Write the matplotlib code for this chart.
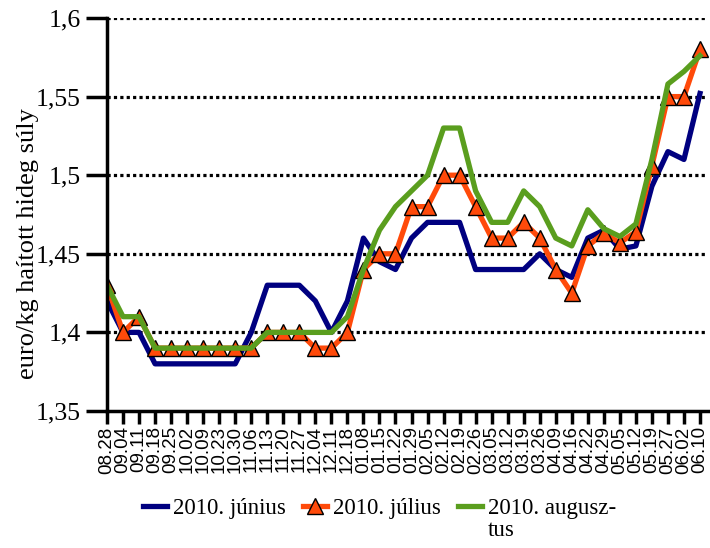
import matplotlib
matplotlib.use('Agg')
import matplotlib.pyplot as plt
import numpy as np

#%%

# weekly dates (x axis)
dates = ['08.28', '09.04', '09.11', '09.18', '09.25', '10.02', '10.09', '10.23',
         '10.30', '11.06', '11.13', '11.20', '11.27', '12.04', '12.11', '12.18',
         '01.08', '01.15', '01.22', '01.29', '02.05', '02.12', '02.19', '02.26',
         '03.05', '03.12', '03.19', '03.26', '04.09', '04.16', '04.22', '04.29',
         '05.05', '05.12', '05.19', '05.27', '06.02', '06.10']

# 2010. június
junius = [1.42, 1.40, 1.40, 1.38, 1.38, 1.38, 1.38, 1.38,
          1.38, 1.40, 1.43, 1.43, 1.43, 1.42, 1.40, 1.42,
          1.46, 1.445, 1.44, 1.46, 1.47, 1.47, 1.47, 1.44,
          1.44, 1.44, 1.44, 1.45, 1.44, 1.435, 1.46, 1.465,
          1.453, 1.455, 1.493, 1.515, 1.51, 1.552]

# 2010. július
julius = [1.43, 1.40, 1.41, 1.39, 1.39, 1.39, 1.39, 1.39,
          1.39, 1.39, 1.40, 1.40, 1.40, 1.39, 1.39, 1.40,
          1.44, 1.45, 1.45, 1.48, 1.48, 1.50, 1.50, 1.48,
          1.46, 1.46, 1.47, 1.46, 1.44, 1.425, 1.455, 1.463,
          1.457, 1.464, 1.506, 1.55, 1.55, 1.58]

# 2010. augusztus
augusztus = [1.43, 1.41, 1.41, 1.39, 1.39, 1.39, 1.39, 1.39,
             1.39, 1.39, 1.40, 1.40, 1.40, 1.40, 1.40, 1.41,
             1.44, 1.465, 1.48, 1.49, 1.50, 1.53, 1.53, 1.49,
             1.47, 1.47, 1.49, 1.48, 1.46, 1.455, 1.478, 1.466,
             1.461, 1.469, 1.51, 1.558, 1.566, 1.576]

y_ticks = [1.35, 1.4, 1.45, 1.5, 1.55, 1.6]
y_ticklabels = ['1,35', '1,4', '1,45', '1,5', '1,55', '1,6']

#%%

serif = 'Liberation Serif'
sans = 'Liberation Sans'

fig = plt.figure(figsize=(7.1, 5.48), dpi=100)
ax = fig.add_axes([107/710, 1 - 411/548, 601/710, 393/548])

x = np.arange(len(dates))

# dotted grid
for yv in y_ticks[1:]:
    ax.axhline(yv, color='black', lw=2.3, linestyle=(0, (1, 1)), zorder=1)

ax.plot(x, junius, color='#000080', lw=3.8, label='2010. június', zorder=3)
ax.plot(x, julius, color='#FF4A0A', lw=3.8, marker='^', markersize=11,
        markerfacecolor='#FF4A0A', markeredgecolor='black', markeredgewidth=1,
        label='2010. július', zorder=4)
ax.plot(x, augusztus, color='#5A9E1E', lw=3.8, label='2010. augusz-', zorder=5)

ax.set_xlim(0, 37.5)
ax.set_ylim(1.35, 1.6)

ax.set_yticks(y_ticks)
ax.set_yticklabels(y_ticklabels, fontfamily=serif, fontsize=18.5)
ax.set_xticks(x)
ax.set_xticklabels(dates, rotation=90, fontfamily=sans, fontsize=13.5)

ax.tick_params(axis='y', direction='out', length=15, width=2.5, color='black', pad=4)
ax.tick_params(axis='x', direction='out', length=9, width=2.5, color='black', pad=2)

for s in ['top', 'right']:
    ax.spines[s].set_visible(False)
for s in ['left', 'bottom']:
    ax.spines[s].set_linewidth(2.5)
    ax.spines[s].set_zorder(6)

ax.set_ylabel('euro/kg haított hideg súly', fontfamily=serif, fontsize=19)
ax.yaxis.set_label_coords(-0.113, 0.427)

leg = ax.legend(loc='upper left', bbox_to_anchor=(143/710, 1 - 498/548),
                bbox_transform=fig.transFigure, ncol=3, frameon=False,
                prop={'family': serif, 'size': 16.5}, handlelength=1.05,
                handletextpad=0.25, columnspacing=0.75, borderaxespad=0,
                borderpad=0)

# second line of the wrapped legend label, under "2010. augusz-"
fig.canvas.draw()
bb = leg.get_texts()[2].get_window_extent()
fig.text(bb.x0 / 710, (bb.y0 - 1) / 548, 'tus', fontfamily=serif,
         fontsize=16.5, ha='left', va='top')

plt.savefig('out.png', dpi=100)
